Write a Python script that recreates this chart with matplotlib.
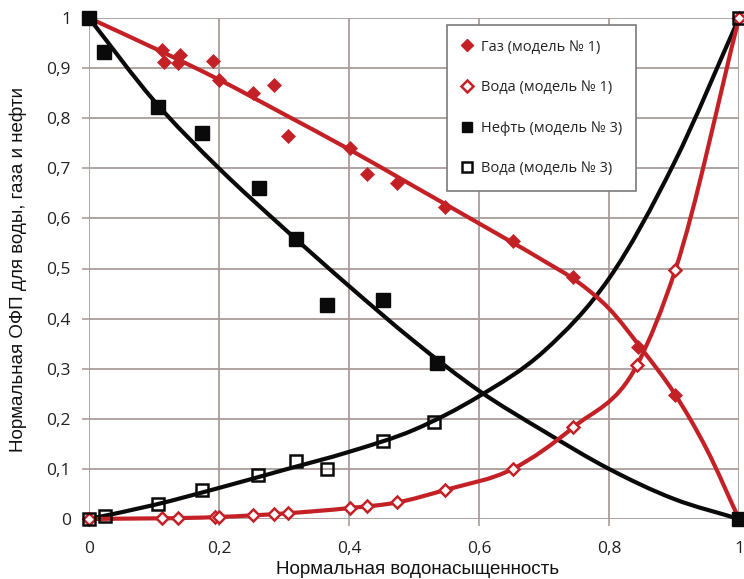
import matplotlib
matplotlib.use("Agg")
import matplotlib.pyplot as plt
from matplotlib.path import Path
from matplotlib.patches import PathPatch
from matplotlib.lines import Line2D
from matplotlib.ticker import FixedLocator

# --- measured points -------------------------------------------------------
gas1_x = [0.0, 0.113, 0.116, 0.137, 0.140, 0.191, 0.200, 0.252, 0.285, 0.306,
          0.402, 0.428, 0.474, 0.548, 0.652, 0.745, 0.845, 0.902, 1.0]
gas1_y = [1.0, 0.936, 0.912, 0.910, 0.926, 0.914, 0.876, 0.850, 0.866, 0.764,
          0.741, 0.689, 0.671, 0.623, 0.555, 0.483, 0.343, 0.248, 0.0]

water1_x = [0.0, 0.113, 0.137, 0.194, 0.200, 0.252, 0.285, 0.306, 0.402, 0.428,
            0.474, 0.548, 0.652, 0.745, 0.843, 0.902, 1.0]
water1_y = [0.0, 0.002, 0.002, 0.004, 0.004, 0.007, 0.010, 0.011, 0.022, 0.025,
            0.033, 0.058, 0.100, 0.183, 0.307, 0.497, 1.0]

oil3_x = [0.0, 0.023, 0.106, 0.174, 0.262, 0.318, 0.366, 0.452, 0.535, 1.0]
oil3_y = [1.0, 0.932, 0.822, 0.770, 0.661, 0.559, 0.427, 0.437, 0.311, 0.0]

water3_x = [0.0, 0.025, 0.106, 0.174, 0.260, 0.318, 0.366, 0.452, 0.531, 1.0]
water3_y = [0.0, 0.005, 0.030, 0.058, 0.088, 0.116, 0.100, 0.156, 0.194, 1.0]

# --- model curves ----------------------------------------------------------
gas1_fit_x = [0.0, 0.1, 0.2, 0.3, 0.4, 0.5, 0.6, 0.7, 0.75, 0.8, 0.85, 0.9, 0.95, 1.0]
gas1_fit_y = [1.0, 0.940, 0.877, 0.808, 0.738, 0.664, 0.590, 0.515, 0.475, 0.420,
              0.340, 0.252, 0.140, 0.0]

water1_fit_x = [0.0, 0.2, 0.3, 0.402, 0.474, 0.548, 0.652, 0.745, 0.843, 0.902, 1.0]
water1_fit_y = [0.0, 0.004, 0.011, 0.022, 0.033, 0.058, 0.100, 0.183, 0.307, 0.497, 1.0]

oil3_fit_x = [0.0, 0.1, 0.2, 0.3, 0.4, 0.5, 0.6, 0.7, 0.8, 0.9, 1.0]
oil3_fit_y = [1.0, 0.835, 0.700, 0.580, 0.465, 0.355, 0.256, 0.175, 0.100, 0.040, 0.0]

water3_fit_x = [0.0, 0.1, 0.2, 0.3, 0.4, 0.5, 0.6, 0.7, 0.8, 0.9, 1.0]
water3_fit_y = [0.0, 0.028, 0.062, 0.098, 0.134, 0.178, 0.245, 0.335, 0.480, 0.710, 1.0]

x_ticks = [0.0, 0.2, 0.4, 0.6, 0.8, 1.0]
y_ticks = [0.0, 0.1, 0.2, 0.3, 0.4, 0.5, 0.6, 0.7, 0.8, 0.9, 1.0]

legend_labels = ["Газ (модель № 1)", "Вода (модель № 1)",
                 "Нефть (модель № 3)", "Вода (модель № 3)"]
x_label = "Нормальная водонасыщенность"
y_label = "Нормальная ОФП для воды, газа и нефти"

RED = "#c42127"
BLACK = "#0a0a0a"
GRID = "#a99d9b"


def smooth_path(xs, ys):
    """Smooth curve y(x) through every point: cubic Hermite segments whose
    tangents are the three-point derivative, expressed as Bezier curves."""
    n = len(xs)
    h = [xs[i + 1] - xs[i] for i in range(n - 1)]
    d = [(ys[i + 1] - ys[i]) / h[i] for i in range(n - 1)]
    m = [d[0]]
    for i in range(1, n - 1):
        m.append((d[i - 1] * h[i] + d[i] * h[i - 1]) / (h[i - 1] + h[i]))
    m.append(d[-1])
    verts = [(xs[0], ys[0])]
    codes = [Path.MOVETO]
    for i in range(n - 1):
        c1 = (xs[i] + h[i] / 3.0, ys[i] + m[i] * h[i] / 3.0)
        c2 = (xs[i + 1] - h[i] / 3.0, ys[i + 1] - m[i + 1] * h[i] / 3.0)
        verts += [c1, c2, (xs[i + 1], ys[i + 1])]
        codes += [Path.CURVE4] * 3
    return Path(verts, codes)


plt.rcParams["font.family"] = ["Open Sans", "DejaVu Sans"]

fig = plt.figure(figsize=(7.44, 5.79), dpi=100)
ax = fig.add_axes([89 / 744, 1 - 519 / 579, 650 / 744, 501 / 579])
ax.set_xlim(0, 1)
ax.set_ylim(0, 1)

for s in ax.spines.values():
    s.set_visible(False)

ax.xaxis.set_major_locator(FixedLocator(x_ticks))
ax.yaxis.set_major_locator(FixedLocator(y_ticks))
ax.set_xticklabels([("%g" % v).replace(".", ",") for v in x_ticks])
ax.set_yticklabels([("%g" % v).replace(".", ",") for v in y_ticks])
ax.tick_params(axis="both", length=5, width=1.2, color=GRID, labelsize=12.5,
               labelcolor="#222222", direction="out")
ax.tick_params(axis="x", pad=11)
ax.tick_params(axis="y", pad=8)
ax.grid(True, color=GRID, linewidth=1.3)
ax.set_axisbelow(True)

# model curves
for fx, fy, col, z in [(gas1_fit_x, gas1_fit_y, RED, 3),
                       (water1_fit_x, water1_fit_y, RED, 3),
                       (oil3_fit_x, oil3_fit_y, BLACK, 2),
                       (water3_fit_x, water3_fit_y, BLACK, 2)]:
    ax.add_patch(PathPatch(smooth_path(fx, fy), fill=False, edgecolor=col,
                           linewidth=3.0, capstyle="round", joinstyle="round",
                           zorder=z, clip_on=False))

# measured points
ax.plot(water1_x, water1_y, linestyle="none", marker="D", markersize=6.5,
        markerfacecolor="white", markeredgecolor=RED, markeredgewidth=1.8,
        zorder=4, clip_on=False)
ax.plot(gas1_x, gas1_y, linestyle="none", marker="D", markersize=7.5,
        markerfacecolor=RED, markeredgecolor=RED, markeredgewidth=0.5,
        zorder=4, clip_on=False)
ax.plot(water3_x, water3_y, linestyle="none", marker="s", markersize=9,
        markerfacecolor="none", markeredgecolor=BLACK, markeredgewidth=1.8,
        zorder=5, clip_on=False)
ax.plot(oil3_x, oil3_y, linestyle="none", marker="s", markersize=10,
        markerfacecolor=BLACK, markeredgecolor=BLACK, zorder=5, clip_on=False)

handles = [
    Line2D([], [], linestyle="none", marker="D", markersize=6,
           markerfacecolor=RED, markeredgecolor=RED),
    Line2D([], [], linestyle="none", marker="D", markersize=6,
           markerfacecolor="white", markeredgecolor=RED, markeredgewidth=1.8),
    Line2D([], [], linestyle="none", marker="s", markersize=7,
           markerfacecolor=BLACK, markeredgecolor=BLACK),
    Line2D([], [], linestyle="none", marker="s", markersize=7,
           markerfacecolor="white", markeredgecolor=BLACK, markeredgewidth=1.8),
]
leg = ax.legend(handles, legend_labels, loc="upper left",
                bbox_to_anchor=((447 - 89) / 650, (519 - 25) / 501),
                borderaxespad=0, frameon=True, fancybox=False,
                edgecolor="#7a7a7a", framealpha=1, fontsize=10.5,
                labelspacing=1.75, handlelength=0.8, handletextpad=0.5,
                borderpad=1.0)
leg.get_frame().set_linewidth(1.2)
leg.set_zorder(10)
for t in leg.get_texts():
    t.set_color("#222222")

fig.text(418 / 744, 1 - 569 / 579, x_label, ha="center", va="center",
         fontsize=13.5, family=["Liberation Sans", "DejaVu Sans"], color="#111111")
fig.text(18 / 744, 1 - 270 / 579, y_label, ha="center", va="center",
         rotation=90, fontsize=13.5, family=["Liberation Sans", "DejaVu Sans"],
         color="#111111")

fig.savefig("out.png", dpi=100)
